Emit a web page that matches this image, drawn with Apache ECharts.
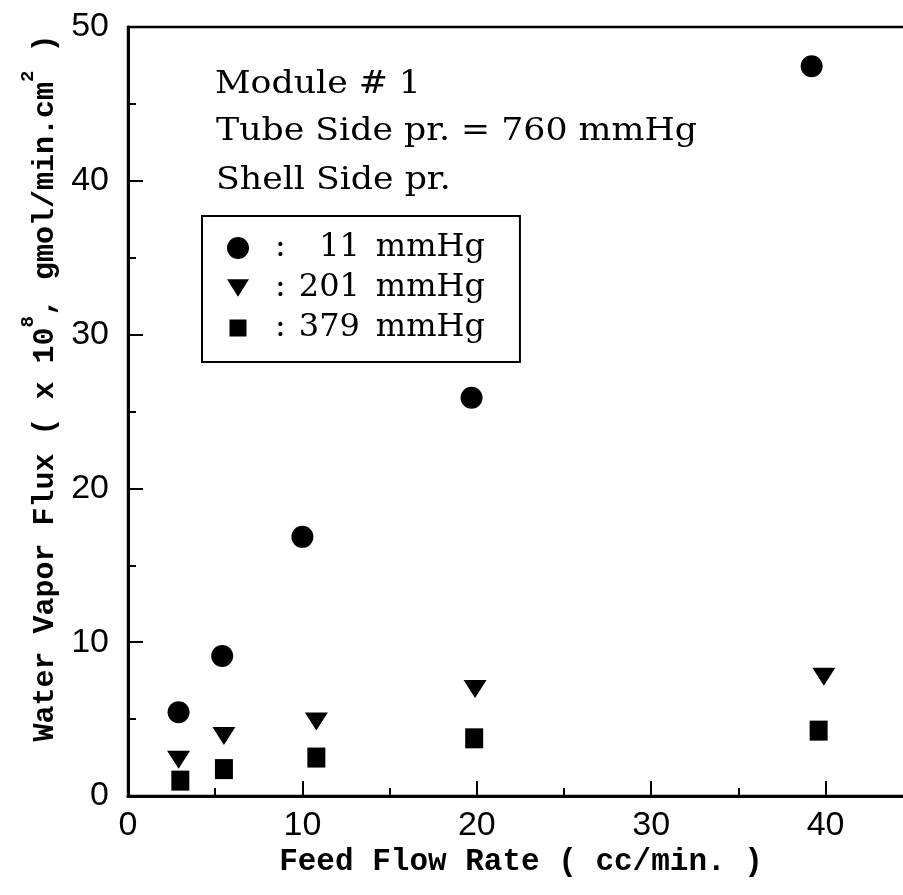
<!DOCTYPE html>
<html>
<head>
<meta charset="utf-8">
<script src="https://cdn.jsdelivr.net/npm/echarts@6/dist/echarts.min.js"></script>
<style>
html,body{margin:0;padding:0;background:#fff;}
#c{width:903px;height:895px;}
</style>
</head>
<body>
<div id="c"></div>
<script>
// ---- data ----
const seriesNames = ['11 mmHg', '201 mmHg', '379 mmHg'];
const pressureLabels = ['11', '201', '379'];

const feedRate11 = [2.9, 5.4, 10.0, 19.7, 39.2];
const flux11 = [5.45, 9.1, 16.85, 25.9, 47.45];

const feedRate201 = [2.9, 5.5, 10.8, 19.9, 39.9];
const flux201 = [2.35, 3.9, 4.85, 6.95, 7.75];

const feedRate379 = [3.0, 5.5, 10.8, 19.85, 39.6];
const flux379 = [1.0, 1.75, 2.5, 3.75, 4.25];

const xTickValues = [0, 10, 20, 30, 40, 50];
const yTickValues = [0, 10, 20, 30, 40, 50];

const annotationLines = ['Module # 1', 'Tube Side pr. = 760 mmHg', 'Shell Side pr.'];
const xTitle = 'Feed Flow Rate ( cc/min. )';

// ---- build ----
function pairs(xs, ys) { return xs.map((x, i) => [x, ys[i]]); }
function padNum(s) { while (s.length < 3) { s = '\u2007' + s; } return s; }

const triPath = 'path://M0,0 L20,0 L10,16 Z';
const sqLegendPath = 'path://M0,0 M22,22 M2.5,2.5 L19.5,2.5 L19.5,19.5 L2.5,19.5 Z';

const chart = echarts.init(document.getElementById('c'), null, {renderer: 'canvas'});

const axisCommon = {
  type: 'value',
  min: 0,
  max: 50,
  interval: 10,
  axisLine: {show: true, lineStyle: {color: '#000', width: 3}},
  axisTick: {show: true, inside: true, length: 15, lineStyle: {color: '#000', width: 2}},
  minorTick: {show: true, splitNumber: 2, length: 8, lineStyle: {color: '#000', width: 2}},
  splitLine: {show: false},
  minorSplitLine: {show: false}
};

const legendFont = {fontFamily: 'DejaVu Serif', fontSize: 32, color: '#000', lineHeight: 30};

const option = {
  backgroundColor: '#fff',
  animation: false,
  grid: {
    left: 128, top: 27, right: -97, bottom: 99,
    containLabel: false,
    outerBoundsMode: 'none',
    show: true, borderColor: '#000', borderWidth: 2.5, backgroundColor: 'transparent'
  },
  xAxis: Object.assign({}, axisCommon, {
    axisLabel: {
      show: true, margin: 13, color: '#000',
      fontFamily: 'Liberation Sans', fontSize: 34,
      formatter: v => (xTickValues.indexOf(v) >= 0 ? String(v) : '')
    }
  }),
  yAxis: Object.assign({}, axisCommon, {
    axisLabel: {
      show: true, margin: 19, color: '#000',
      fontFamily: 'Liberation Sans', fontSize: 34,
      formatter: v => (yTickValues.indexOf(v) >= 0 ? String(v) : '')
    }
  }),
  legend: {
    show: true,
    orient: 'vertical',
    left: 202, top: 216,
    padding: [16, 35, 18, 25],
    itemGap: 8,
    itemWidth: 22, itemHeight: 22,
    borderColor: '#000', borderWidth: 2,
    backgroundColor: '#fff',
    selectedMode: false,
    data: [
      {name: seriesNames[0], icon: 'circle'},
      {name: seriesNames[1], icon: triPath},
      {name: seriesNames[2], icon: sqLegendPath}
    ],
    formatter: function (name) {
      const i = seriesNames.indexOf(name);
      return '{c|:}{n|' + padNum(pressureLabels[i]) + '}{u|mmHg}';
    },
    textStyle: Object.assign({}, legendFont, {
      rich: {
        c: Object.assign({}, legendFont, {padding: [0, 0, 0, 21]}),
        n: Object.assign({}, legendFont, {padding: [0, 0, 0, 13]}),
        u: Object.assign({}, legendFont, {padding: [0, 0, 0, 16]})
      }
    })
  },
  series: [
    {
      name: seriesNames[0], type: 'scatter',
      symbol: 'circle', symbolSize: 22,
      itemStyle: {color: '#000', opacity: 1},
      emphasis: {disabled: true},
      data: pairs(feedRate11, flux11)
    },
    {
      name: seriesNames[1], type: 'scatter',
      symbol: triPath, symbolSize: [23, 18],
      itemStyle: {color: '#000', opacity: 1},
      emphasis: {disabled: true},
      data: pairs(feedRate201, flux201)
    },
    {
      name: seriesNames[2], type: 'scatter',
      symbol: 'rect', symbolSize: [18, 20],
      itemStyle: {color: '#000', opacity: 1},
      emphasis: {disabled: true},
      data: pairs(feedRate379, flux379)
    }
  ],
  graphic: [
    {type: 'text', x: 215, y: 85, scaleX: 1.12, style: {text: annotationLines[0], font: '31px "DejaVu Serif"', fill: '#000', align: 'left', verticalAlign: 'middle'}},
    {type: 'text', x: 216, y: 132, scaleX: 1.12, style: {text: annotationLines[1], font: '31px "DejaVu Serif"', fill: '#000', align: 'left', verticalAlign: 'middle'}},
    {type: 'text', x: 216, y: 181, scaleX: 1.12, style: {text: annotationLines[2], font: '31px "DejaVu Serif"', fill: '#000', align: 'left', verticalAlign: 'middle'}},
    {type: 'text', x: 521, y: 862, style: {text: xTitle, font: 'bold 31px "Liberation Mono"', fill: '#000', align: 'center', verticalAlign: 'middle'}},
    {
      type: 'text', x: 45, y: 388, rotation: Math.PI / 2,
      style: {
        text: '{m|Water Vapor Flux ( x 10}{s|8}{m|, gmol/min.cm}{s|2}{m| )}',
        align: 'center', verticalAlign: 'middle', fill: '#000',
        rich: {
          m: {fontFamily: 'Liberation Mono', fontWeight: 'bold', fontSize: 30, fill: '#000', lineHeight: 30, verticalAlign: 'bottom'},
          s: {fontFamily: 'Liberation Mono', fontWeight: 'bold', fontSize: 19, fill: '#000', lineHeight: 19, verticalAlign: 'bottom', padding: [0, 0, 22, 0]}
        }
      }
    }
  ]
};

chart.setOption(option);
</script>
</body>
</html>
